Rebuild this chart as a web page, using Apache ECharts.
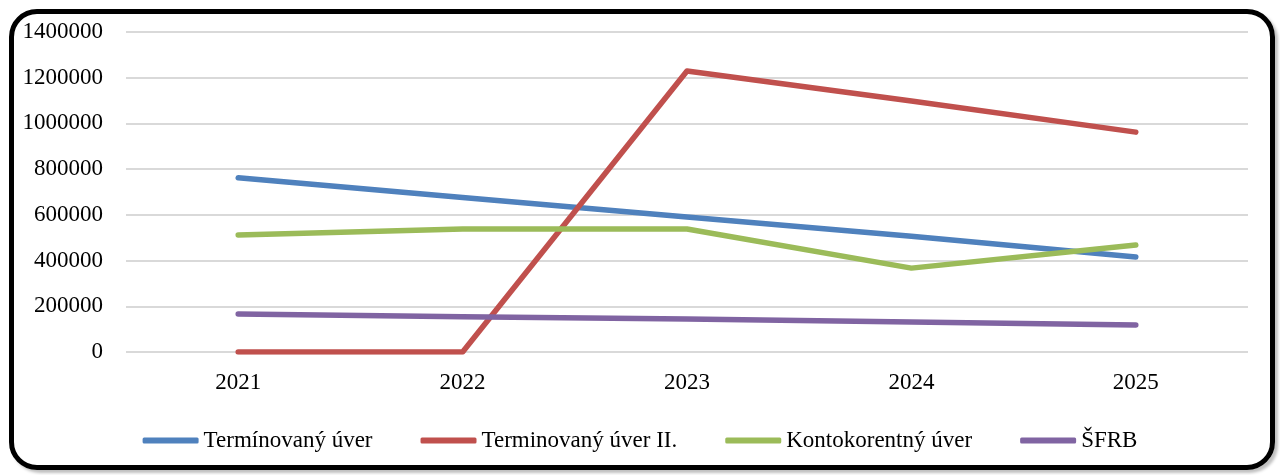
<!DOCTYPE html>
<html><head><meta charset="utf-8">
<script src="https://cdn.jsdelivr.net/npm/echarts@6/dist/echarts.min.js"></script>
<style>
html,body{margin:0;padding:0;background:#fff;}
#wrap{position:relative;width:1280px;height:475px;overflow:hidden;}
#chart{position:absolute;left:0;top:0;width:1280px;height:475px;}
#frame{position:absolute;left:9px;top:9px;width:1256px;height:451px;border:5px solid #000;border-radius:28px;box-shadow:3px 3px 3px rgba(0,0,0,0.25);pointer-events:none;}
</style></head>
<body><div id="wrap"><div id="chart"></div><div id="frame"></div></div>
<script>
var categories = ['2021','2022','2023','2024','2025'];
var seriesNames = ['Termínovaný úver','Terminovaný úver II.','Kontokorentný úver','ŠFRB'];
var terminovany = [762000, 676000, 591000, 506000, 416000];
var terminovany2 = [0, 0, 1229000, 1098000, 962000];
var kontokorentny = [512000, 538000, 538000, 367000, 468000];
var sfrb = [166000, 154000, 144000, 131000, 118000];
var colors = ['#4F81BD','#C0504D','#9BBB59','#8064A2'];

var chart = echarts.init(document.getElementById('chart'));
var font = 'Liberation Serif';
var data = [terminovany, terminovany2, kontokorentny, sfrb];
chart.setOption({
  animation:false,
  color: colors,
  grid:{left:126,right:32,top:32,bottom:123},
  legend:{
    bottom:18, left:'center',
    itemWidth:56, itemHeight:6, itemGap:48,
    icon:'roundRect',
    textStyle:{fontFamily:font,fontSize:23,color:'#000'},
    data: seriesNames
  },
  xAxis:{type:'category',data:categories,boundaryGap:true,
    axisLine:{show:false},axisTick:{show:false},
    axisLabel:{fontFamily:font,fontSize:23,color:'#000',margin:19}},
  yAxis:{type:'value',min:0,max:1400000,interval:200000,
    axisLine:{show:false},axisTick:{show:false},
    splitLine:{lineStyle:{color:'#d9d9d9',width:2}},
    axisLabel:{fontFamily:font,fontSize:23,color:'#000',margin:23,
      formatter:function(v){return String(v);}}},
  series: seriesNames.map(function(n,i){return {
    name:n,type:'line',data:data[i],symbol:'none',
    lineStyle:{width:5.5,cap:'round',join:'round'}
  };})
});
</script></body></html>
